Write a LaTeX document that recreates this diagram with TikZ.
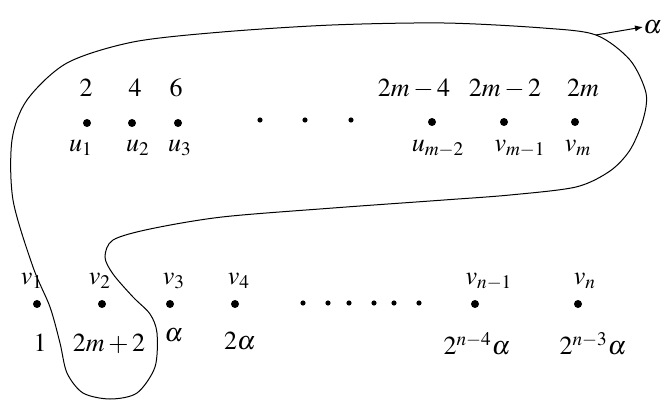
\documentclass[tikz,border=0pt]{standalone}
\usepackage{mathptmx}
\usetikzlibrary{arrows.meta,positioning}
\begin{document}
\begin{tikzpicture}[
  x=0.5pt, y=-0.5pt,
  vert/.style={circle, fill=black, inner sep=0pt, minimum size=4pt},
  tinydot/.style={circle, fill=black, inner sep=0pt, minimum size=2.6pt},
  lbl/.style={anchor=base, inner sep=0pt, font=\fontsize{13}{15}\selectfont},
  loop/.style={line width=0.5pt},
]
\useasboundingbox (0,0) rectangle (665,401);
% top row
\node[vert] (u1) at (87,123) {};
\node[vert] (u2) at (132,123) {};
\node[vert] (u3) at (178,123) {};
\node[tinydot] (ta) at (260,120) {};
\node[tinydot] (tb) at (305,120) {};
\node[tinydot] (tc) at (351,120) {};
\node[vert] (um2) at (432,122) {};
\node[vert] (vm1) at (504,122) {};
\node[vert] (vm) at (575,122) {};
\node[lbl] (w1) at (86,97) {$2$};
\node[lbl] (w2) at (135,97) {$4$};
\node[lbl] (w3) at (176,97) {$6$};
\node[lbl] (wm2) at (414,97) {$2m-4$};
\node[lbl] (wm1) at (505,97) {$2m-2$};
\node[lbl] (wm) at (583,97) {$2m$};
\node[lbl] (lu1) at (81,152) {$u_1$};
\node[lbl] (lu2) at (138,152) {$u_2$};
\node[lbl] (lu3) at (180,152) {$u_3$};
\node[lbl] (lum2) at (438,152) {$u_{m-2}$};
\node[lbl] (lvm1) at (520,152) {$v_{m-1}$};
\node[lbl] (lvm) at (578,152) {$v_m$};
% bottom row
\node[vert] (v1) at (37,304) {};
\node[vert] (v2) at (102,304) {};
\node[vert] (v3) at (170,304) {};
\node[vert] (v4) at (235,304) {};
\node[tinydot] (ba) at (303,303) {};
\node[tinydot] (bb) at (328,303) {};
\node[tinydot] (bc) at (349,303) {};
\node[tinydot] (bd) at (374,303) {};
\node[tinydot] (be) at (394,303) {};
\node[tinydot] (bf) at (419,303) {};
\node[vert] (vn1) at (475,304) {};
\node[vert] (vn) at (578,304) {};
\node[lbl] (lv1) at (32,285) {$v_1$};
\node[lbl] (lv2) at (100,285) {$v_2$};
\node[lbl] (lv3) at (174,285) {$v_3$};
\node[lbl] (lv4) at (239,285) {$v_4$};
\node[lbl] (lvn1) at (489,285) {$v_{n-1}$};
\node[lbl] (lvn) at (585,285) {$v_n$};
\node[lbl] (c1) at (40,351) {$1$};
\node[lbl] (c2) at (109,351) {$2m+2$};
\node[lbl] (c3) at (174,342) {$\alpha$};
\node[lbl] (c4) at (240,350) {$2\alpha$};
\node[lbl] (cn1) at (477,355) {$2^{n-4}\alpha$};
\node[lbl] (cn) at (593,355) {$2^{n-3}\alpha$};
% the closed curve and its arrow
\draw[loop] plot[smooth cycle] coordinates {
  (110,399) (137,393) (155,367) (157,333) (150,314) (133,297) (113,274)
  (105,257) (113,240) (150,229) (222,217) (333,208) (444,200) (510,195)
  (576,187) (610,171) (630,150) (643,120) (646,93) (630,60) (596,35)
  (543,28) (444,23) (332,25) (222,32) (133,42) (67,63) (27,100) (12,140)
  (13,200) (33,267) (50,307) (60,343) (67,373) (83,393)};
\coordinate (tip) at (596,35);
\node[lbl, anchor=west] (out) at (643,27) {$\alpha$};
\draw[loop, -{Latex[length=4pt,width=3pt]}] (tip) -- (out.west);
\end{tikzpicture}
\end{document}
